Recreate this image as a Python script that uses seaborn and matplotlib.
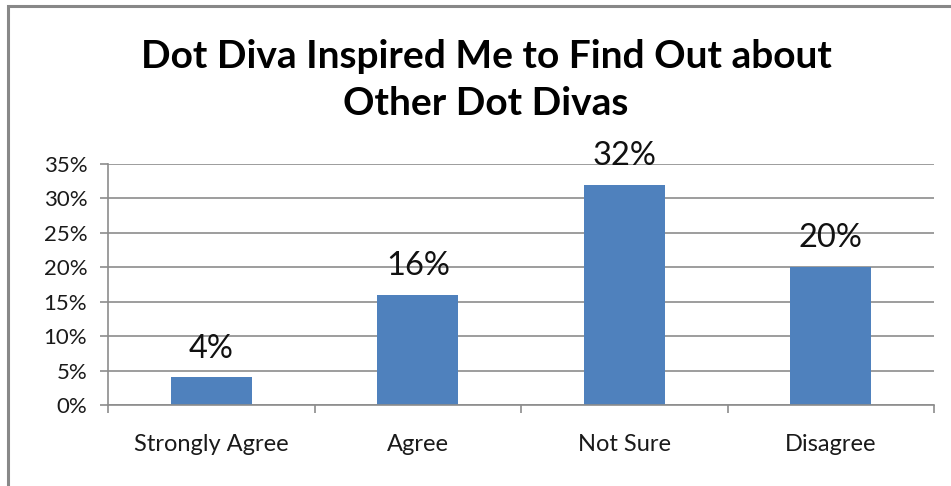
import matplotlib
matplotlib.use("Agg")
import matplotlib.pyplot as plt
import seaborn as sns
import pandas as pd
from matplotlib.ticker import PercentFormatter, FixedLocator, MultipleLocator
from matplotlib.patches import Rectangle

categories = ["Strongly Agree", "Agree", "Not Sure", "Disagree"]
values = [0.04, 0.16, 0.32, 0.20]
value_labels = ["4%", "16%", "32%", "20%"]
title = "Dot Diva Inspired Me to Find Out about\nOther Dot Divas"

sns.set_theme(style="white")
plt.rcParams['font.family'] = ['Lato', 'DejaVu Sans']

df = pd.DataFrame({"category": categories, "value": values})

fig = plt.figure(figsize=(9.51, 4.86), dpi=100)
ax = fig.add_axes([108/951, 1 - 405/486, (934-108)/951, (405-164)/486])

sns.barplot(data=df, x="category", y="value", color="#4F81BD", width=0.39,
            saturation=1, ax=ax, edgecolor="none")

ax.set_ylim(0, 0.35)
ax.set_xlim(-0.5, len(categories) - 0.5)
ax.yaxis.set_major_locator(MultipleLocator(0.05))
ax.yaxis.set_major_formatter(PercentFormatter(1.0, decimals=0))
ax.yaxis.grid(True, color="#8C8C8C", linewidth=1.2)
ax.set_axisbelow(True)

for s in ["top", "right"]:
    ax.spines[s].set_visible(False)
for s in ["left", "bottom"]:
    ax.spines[s].set_color("#8C8C8C")
    ax.spines[s].set_linewidth(1.2)

ax.tick_params(axis="y", which="major", left=True, length=6, width=1.2,
               color="#8C8C8C", labelsize=16, labelcolor="#1a1a1a", pad=9)
ax.tick_params(axis="x", which="major", bottom=False, labelsize=17,
               labelcolor="#1a1a1a", pad=15)
ax.xaxis.set_minor_locator(FixedLocator([i - 0.5 for i in range(len(categories) + 1)]))
ax.tick_params(axis="x", which="minor", bottom=True, length=6, width=1.2,
               color="#8C8C8C")
ax.set_xlabel("")
ax.set_ylabel("")

for i, (v, lab) in enumerate(zip(values, value_labels)):
    ax.annotate(lab, (i, v), xytext=(0, 10), textcoords="offset points",
                ha="center", va="bottom", fontsize=23.5, color="#111111")

fig.text(486/951, 1 - 80/486, title, ha="center", va="center",
         fontsize=28, fontweight="bold", color="black", linespacing=1.38)

border = Rectangle((8/951, -0.05), 1.2, 1 - 6/486 + 0.05, transform=fig.transFigure,
                   fill=False, edgecolor="#888888", linewidth=2.2)
fig.add_artist(border)

fig.savefig("out.png", dpi=100, facecolor="white")
